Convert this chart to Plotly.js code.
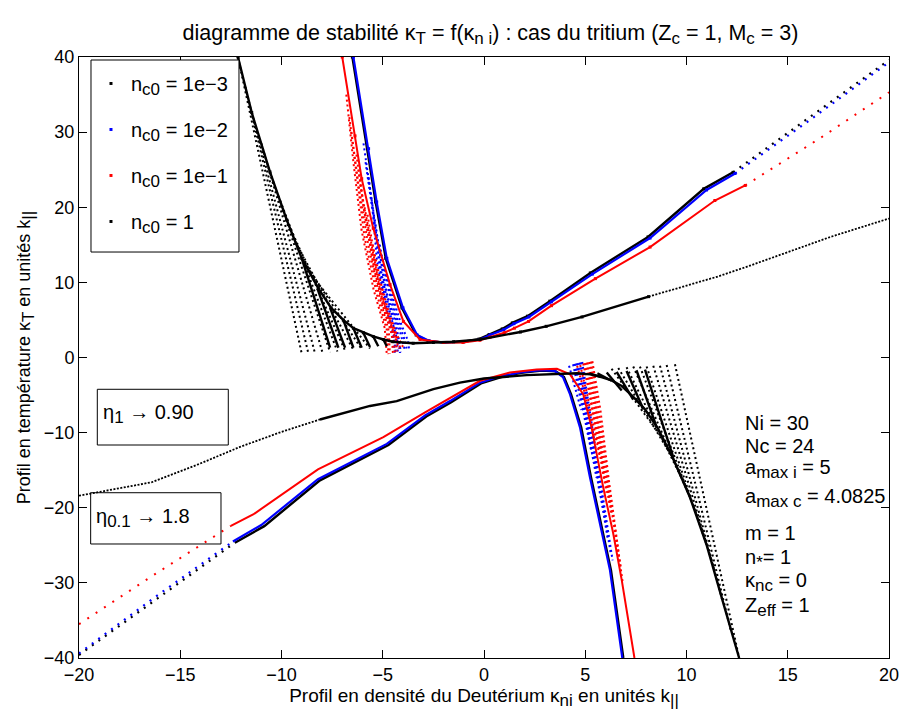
<!DOCTYPE html>
<html><head><meta charset="utf-8">
<script src="https://cdn.plot.ly/plotly-3.0.1.min.js"></script>
<style>html,body{margin:0;padding:0;background:#fff}#plot{width:904px;height:715px}</style>
</head><body><div id="plot"></div>
<script>
// ---------- DATA ----------
// n_c0 = 1e-3 (black, mostly hidden under 1e-2)
const e3UpX = [-6.5,-5.75,-5.35,-4.85,-4.05,-3.35,-2.75,-2.0,-1.0,-0.25,0.25,0.9,1.4,2.15,3.25,5.25,8.1,10.85,12.3];
const e3UpY = [40,27.8,20.7,13.2,6.6,3.0,2.2,2.0,2.1,2.45,3.05,3.8,4.6,5.5,7.5,11.25,16.05,22.45,24.65];
const e3UpDotX = [12.3,16.2,20.0];
const e3UpDotY = [24.65,32.2,39.6];
const e3LoX = [-12.3,-10.85,-8.1,-5.55,-4.72,-2.85,-1.62,-0.15,0.85,1.83,2.85,3.55,3.95,4.3,4.8,5.28,5.78,6.27,6.88];
const e3LoY = [-24.65,-22.45,-16.35,-12.75,-11.65,-7.85,-5.95,-3.45,-2.6,-2.05,-1.75,-1.85,-2.6,-4.9,-9.3,-15.9,-22.1,-28.3,-40];
const e3LoDotX = [-20.0,-16.2,-12.3];
const e3LoDotY = [-39.6,-32.2,-24.65];

// n_c0 = 1e-2 (blue)
const b2UpX = [-6.45,-5.7,-5.3,-4.8,-4.0,-3.3,-2.7,-2.0,-1.0,-0.2,0.3,0.98,1.48,2.22,3.33,5.35,8.2,10.99,12.4];
const b2UpY = [40,27.8,20.7,13.2,6.6,3.0,2.2,2.0,2.1,2.4,3.0,3.7,4.5,5.4,7.4,11.1,15.9,22.3,24.5];
const b2UpDotX = [12.4,16.29,20.0];
const b2UpDotY = [24.5,32.0,39.3];
const b2LoX = [-12.4,-11.0,-8.2,-5.63,-4.8,-2.91,-1.68,-0.2,0.8,1.78,2.8,3.5,3.9,4.25,4.74,5.23,5.73,6.22,6.83];
const b2LoY = [-24.5,-22.3,-16.2,-12.6,-11.5,-7.7,-5.8,-3.35,-2.5,-2.0,-1.7,-1.8,-2.6,-4.9,-9.3,-15.9,-22.1,-28.3,-40];
const b2LoDotX = [-20.0,-16.3,-12.4];
const b2LoDotY = [-39.4,-32.0,-24.5];
// blue dotted strands beside the steep branches
const b2StrUpX = [[-5.95,-5.5,-5.3,-4.85,-4.5,-4.4],[-5.85,-5.45,-5.15,-4.75,-4.45,-4.35],[-5.7,-5.35,-5.05,-4.6,-4.3,-4.25],[-5.55,-5.2,-4.9,-4.5,-4.2,-4.15],[-5.45,-5.1,-4.8,-4.35,-4.1],[-5.15,-4.8,-4.45,-4.1,-3.9],[-5.0,-4.65,-4.3,-3.95,-3.8],[-4.8,-4.45,-4.1,-3.75,-3.7]];
const b2StrUpY = [[28.5,20,13.2,6.6,3.0,0.4],[26,18.5,12,6,2.8,0.45],[24,17,11,5.5,2.5,0.5],[21,15,9.5,5,2.3,0.6],[19,13,8.5,4.5,0.7],[15,10,6,3,0.9],[13,8.8,5.3,2.6,1.0],[11,7.5,4.5,2.2,1.1]];
const b2StrLoX = [[4.85,5.15,5.55,5.95,6.35],[4.78,5.08,5.48,5.88,6.25],[4.7,5.0,5.4,5.8,6.1],[4.62,4.92,5.3,5.68,5.95],[4.55,4.85,5.2,5.55],[4.48,4.78,5.1,5.42],[4.4,4.7,5.0,5.3],[4.2,4.5,4.8]];
const b2StrLoY = [[-0.6,-6,-13,-20,-27],[-0.65,-5.8,-12.5,-19.5,-26],[-0.7,-5.5,-12,-19,-24],[-0.75,-5.2,-11.2,-17.5,-21],[-0.8,-5,-10.5,-16],[-0.85,-4.8,-9.5,-14],[-0.9,-4.5,-8.5,-12.5],[-1.1,-4,-7]];

// n_c0 = 1e-1 (red)
const r1UpX = [-7.0,-6.37,-6.04,-5.47,-4.64,-3.98,-3.16,-2.0,-1.04,-0.2,0.3,1.0,1.5,2.2,3.33,5.5,8.2,11.4,12.9];
const r1UpY = [40,29.5,23.8,17.2,9.7,4.8,2.4,2.0,2.0,2.3,2.7,3.3,3.9,4.8,6.9,10.5,14.7,20.9,22.9];
const r1UpDotX = [12.9,16.6,20.0];
const r1UpDotY = [22.9,29.2,35.3];
const r1LoX = [-12.5,-11.4,-8.2,-5.63,-4.97,-2.91,-1.84,-0.2,1.28,2.6,3.6,4.25,4.9,5.31,5.89,6.38,6.8,7.43];
const r1LoY = [-22.4,-20.9,-14.9,-11.5,-10.6,-7.3,-5.6,-3.1,-2.0,-1.6,-1.5,-2.25,-4.9,-9.3,-17.3,-23.4,-29.6,-40];
const r1LoDotX = [-20.0,-16.4,-12.5];
const r1LoDotY = [-35.5,-29.1,-22.4];
const r1StrUpX = [[-6.8,-6.45,-6.05,-5.45,-4.9,-4.8],[-6.65,-6.3,-5.9,-5.3,-4.8,-4.72],[-6.55,-6.2,-5.75,-5.2,-4.7,-4.65],[-6.3,-5.95,-5.5,-5.0,-4.55,-4.5],[-6.2,-5.85,-5.4,-4.9,-4.45,-4.4],[-6.1,-5.7,-5.25,-4.75,-4.35,-4.3],[-5.9,-5.5,-5.1,-4.6,-4.2],[-5.75,-5.35,-4.9,-4.45,-4.1],[-5.5,-5.1,-4.7,-4.3,-4.0]];
const r1StrUpY = [[35,26,17,9,3.9,0.4],[32,24.5,16,8.5,3.7,0.45],[30,23,15.5,8.5,3.5,0.5],[27,20,13,7,3,0.6],[25,18.5,11.5,6,2.8,0.7],[23,16.5,10.5,5.5,2.5,0.8],[20,14,8.5,4.5,1.2],[19,12.5,7,3.5,1.0],[15,10,6,3,1.4]];
const r1StrLoX = [[5.35,5.75,6.15,6.6,6.85],[5.28,5.65,6.05,6.5,6.75],[5.2,5.55,5.95,6.4,6.6],[5.12,5.48,5.88,6.3],[5.05,5.4,5.8,6.2],[4.98,5.32,5.7,6.05],[4.9,5.25,5.6,5.95],[4.75,5.1,5.4,5.7],[4.6,4.95,5.25,5.5]];
const r1StrLoY = [[-0.5,-7,-16,-24.8,-30],[-0.55,-6.8,-15,-23.5,-28],[-0.6,-6.5,-14.5,-22,-26],[-0.65,-6.2,-13.8,-21],[-0.7,-6,-13,-19.5],[-0.75,-5.8,-12,-18],[-0.8,-5.5,-11,-16.5],[-1.0,-5,-9,-13],[-1.1,-4.5,-8,-11]];

// n_c0 = 1 (black)
const k0UpX = [-12.15,-11.47,-10.57,-9.74,-9.0,-8.18,-7.55,-6.95,-6.45,-5.96,-5.47,-4.97,-4.5,-3.5,-2.5,-1.5,-0.2,1.8,3.07,4.84,8.13];
const k0UpY = [40,32.6,24.7,18.3,13.2,9.2,6.6,5.0,3.9,3.3,2.8,2.4,2.1,1.9,2.0,2.1,2.4,3.4,4.15,5.4,8.1];
const k0UpDotX = [8.13,10.0,11.57,13.0,15.0,17.13,20.0];
const k0UpDotY = [8.1,9.6,10.8,12.1,14.0,16.07,18.5];
const k0LoX = [-8.1,-5.63,-4.31,-2.5,-1.19,0.0,2.1,3.6,4.6,5.24,5.8,6.3,6.8,7.36,7.95,8.6,9.35,10.17,11.0,11.85,12.6];
const k0LoY = [-8.25,-6.45,-5.8,-4.2,-3.35,-2.8,-2.35,-2.2,-2.1,-2.25,-2.6,-3.05,-3.8,-5.2,-6.9,-9.5,-13.5,-18.6,-25,-33,-40];
const k0LoDotX = [-20.0,-16.4,-14.0,-12.05,-10.0,-8.1];
const k0LoDotY = [-18.4,-16.6,-14.1,-11.9,-9.9,-8.25];
const k0FanUpX0 = [-12.15,-11.78,-11.47,-11.0,-10.57,-10.15,-9.74,-9.33,-9.0,-8.59];
const k0FanUpY0 = [40,36,32.6,28.5,24.7,21.5,18.3,15.5,13.2,11.2];
const k0FanUpX1 = [-9.0,-8.67,-8.35,-7.97,-7.6,-7.24,-6.86,-6.45,-6.04,-5.63];
const k0FanUpY1 = [0.5,0.5,0.6,0.6,0.7,0.8,0.9,1.0,1.1,1.2];
const k0TeethUpX0 = [-9.0,-8.23,-7.6,-6.95,-6.45,-5.96,-5.47,-4.97];
const k0TeethUpY0 = [13.2,9.2,6.6,5.0,3.9,3.3,2.8,2.4];
const k0TeethUpX1 = [-7.6,-7.19,-6.86,-6.45,-6.04,-5.63,-5.22,-4.8];
const k0TeethUpY1 = [1.3,1.3,1.3,1.3,1.3,1.4,1.5,1.5];
const k0FanLoX0 = [9.43,9.02,8.69,8.36,8.03,7.7,7.37,7.04,6.63,6.3];
const k0FanLoY0 = [-0.9,-1.0,-1.1,-1.1,-1.2,-1.2,-1.2,-1.3,-1.4,-1.5];
const k0FanLoX1 = [12.6,12.2,11.8,11.4,11.0,10.6,10.17,9.75,9.35,8.95];
const k0FanLoY1 = [-40,-36.5,-32.6,-28.5,-25,-21.6,-18.6,-16,-13.5,-11.3];
const k0TeethLoX0 = [5.2,5.6,6.06,6.55,7.04,7.53,7.95];
const k0TeethLoY0 = [-2.1,-2.1,-2.0,-1.9,-1.8,-1.7,-1.6];
const k0TeethLoX1 = [5.8,6.3,6.8,7.37,7.87,8.53,9.35];
const k0TeethLoY1 = [-2.6,-3.1,-4.4,-5.6,-6.9,-9.3,-13.3];

// texts
const SUB = t => '<sub><span style="font-size:17px">'+t+'</span></sub>';
const seriesNames = ['n'+SUB('c0')+' = 1e\u22123','n'+SUB('c0')+' = 1e\u22122','n'+SUB('c0')+' = 1e\u22121','n'+SUB('c0')+' = 1'];
const xTicks = [-20,-15,-10,-5,0,5,10,15,20];
const yTicks = [-40,-30,-20,-10,0,10,20,30,40];
const paramLines = ['Ni = 30','Nc = 24','a'+SUB('max i')+' = 5','a'+SUB('max c')+' = 4.0825','m = 1','n'+SUB('*')+'= 1','\u03ba'+SUB('nc')+' = 0','Z'+SUB('eff')+' = 1'];
const paramY = [0.3918,0.3527,0.3145,0.267,0.208,0.1647,0.1265,0.0849];

// ---------- BUILD ----------
const FONT = 'Liberation Sans, Arial, Helvetica, sans-serif';
function segs(x0,y0,x1,y1){const X=[],Y=[];for(let i=0;i<x0.length;i++){X.push(x0[i],x1[i],null);Y.push(y0[i],y1[i],null);}return {X,Y};}
function multi(xs,ys){const X=[],Y=[];for(let i=0;i<xs.length;i++){X.push(...xs[i],null);Y.push(...ys[i],null);}return {X,Y};}
function ln(x,y,color,width,dash,g){return {x:x,y:y,type:'scatter',mode:'lines',line:{color:color,width:width,dash:dash||'solid'},legendgroup:g,showlegend:false,hoverinfo:'skip'};}
function lg(x,y,color,name,g){return {x:x,y:y,type:'scatter',mode:'markers',marker:{color:color,size:3,symbol:'square'},name:name,legendgroup:g,showlegend:true,hoverinfo:'skip'};}
const FD = '2px,3px';
const traces = [];
let s;
// 1e-3
traces.push(lg(e3UpX,e3UpY,'#000',seriesNames[0],'a'));
traces.push(ln(e3UpX,e3UpY,'#000',2.4,'solid','a'));
traces.push(ln(e3LoX,e3LoY,'#000',2.4,'solid','a'));
traces.push(ln(e3UpDotX,e3UpDotY,'#000',2.2,'2px,6px','a'));
traces.push(ln(e3LoDotX,e3LoDotY,'#000',2.2,'2px,6px','a'));
// 1e-2
traces.push(lg(b2UpX,b2UpY,'#0000ff',seriesNames[1],'b'));
s=multi(b2StrUpX,b2StrUpY); traces.push(ln(s.X,s.Y,'#0000ff',2,FD,'b'));
s=multi(b2StrLoX,b2StrLoY); traces.push(ln(s.X,s.Y,'#0000ff',2,FD,'b'));
traces.push(ln(b2UpX,b2UpY,'#0000ff',2.2,'solid','b'));
traces.push(ln(b2LoX,b2LoY,'#0000ff',2.2,'solid','b'));
traces.push(ln(b2UpDotX,b2UpDotY,'#0000ff',2.2,'2px,6px','b'));
traces.push(ln(b2LoDotX,b2LoDotY,'#0000ff',2.2,'2px,6px','b'));
// 1e-1
traces.push(lg(r1UpX,r1UpY,'#ff0000',seriesNames[2],'c'));
s=multi(r1StrUpX,r1StrUpY); traces.push(ln(s.X,s.Y,'#ff0000',2,FD,'c'));
s=multi(r1StrLoX,r1StrLoY); traces.push(ln(s.X,s.Y,'#ff0000',2,FD,'c'));
traces.push(ln(r1UpX,r1UpY,'#ff0000',2,'solid','c'));
traces.push(ln(r1LoX,r1LoY,'#ff0000',2,'solid','c'));
traces.push(ln(r1UpDotX,r1UpDotY,'#ff0000',2,'2px,8px','c'));
traces.push(ln(r1LoDotX,r1LoDotY,'#ff0000',2,'2px,8px','c'));
// 1
traces.push(lg(k0UpX,k0UpY,'#000',seriesNames[3],'d'));
s=segs(k0FanUpX0,k0FanUpY0,k0FanUpX1,k0FanUpY1); traces.push(ln(s.X,s.Y,'#000',2,FD,'d'));
s=segs(k0FanLoX0,k0FanLoY0,k0FanLoX1,k0FanLoY1); traces.push(ln(s.X,s.Y,'#000',2,FD,'d'));
s=segs(k0TeethUpX0,k0TeethUpY0,k0TeethUpX1,k0TeethUpY1); traces.push(ln(s.X,s.Y,'#000',2.4,'solid','d'));
s=segs(k0TeethLoX0,k0TeethLoY0,k0TeethLoX1,k0TeethLoY1); traces.push(ln(s.X,s.Y,'#000',2.4,'solid','d'));
traces.push(ln(k0UpX,k0UpY,'#000',2.4,'solid','d'));
traces.push(ln(k0LoX,k0LoY,'#000',2.4,'solid','d'));
traces.push(ln(k0UpDotX,k0UpDotY,'#000',1.8,'2px,1.5px','d'));
traces.push(ln(k0LoDotX,k0LoDotY,'#000',1.8,'2px,1.5px','d'));

const TF = {family:FONT,size:20,color:'#000'};
const annotations = paramLines.map((t,i)=>({text:t,xref:'paper',yref:'paper',x:0.8198,y:paramY[i],xanchor:'left',yanchor:'middle',showarrow:false,font:TF}));
annotations.push({text:'\u03b7'+SUB('1')+' \u2192 0.90',xref:'paper',yref:'paper',x:0.027,y:0.406,xanchor:'left',yanchor:'middle',showarrow:false,font:TF});
annotations.push({text:'\u03b7'+SUB('0.1')+' \u2192 1.8',xref:'paper',yref:'paper',x:0.019,y:0.233,xanchor:'left',yanchor:'middle',showarrow:false,font:TF});
const shapes = [
 {type:'rect',xref:'paper',yref:'paper',x0:0.0148,x1:0.1975,y0:0.6755,y1:0.995,line:{color:'#000',width:1},fillcolor:'#fff',layer:'above'},
 {type:'rect',xref:'paper',yref:'paper',x0:0.0226,x1:0.1843,y0:0.3544,y1:0.4471,line:{color:'#000',width:1},fillcolor:'rgba(0,0,0,0)',layer:'above'},
 {type:'rect',xref:'paper',yref:'paper',x0:0.0144,x1:0.1753,y0:0.1897,y1:0.275,line:{color:'#000',width:1},fillcolor:'rgba(0,0,0,0)',layer:'above'}
];

const axisCommon = {showline:true,linecolor:'#000',linewidth:1,mirror:'ticks',ticks:'inside',ticklen:8,tickwidth:1,tickcolor:'#000',showgrid:false,zeroline:false,tickfont:{family:FONT,size:18,color:'#000'}};
const layout = {
 width:904,height:715,paper_bgcolor:'#fff',plot_bgcolor:'#fff',
 margin:{l:79,r:15,t:57,b:57},
 font:{family:FONT,color:'#000'},
 title:{text:'diagramme de stabilit\u00e9 \u03ba'+SUB('T')+' = f(\u03ba'+SUB('n i')+') : cas du tritium (Z'+SUB('c')+' = 1, M'+SUB('c')+' = 3)',font:{family:FONT,size:21.5,color:'#000'},x:0.508,xref:'paper',xanchor:'center',y:0.955,yref:'container',yanchor:'middle'},
 xaxis:Object.assign({},axisCommon,{range:[-20,20],tickvals:xTicks,ticktext:xTicks.map(v=>v<0?'\u2212'+(-v):String(v)),title:{text:'Profil en densit\u00e9 du Deut\u00e9rium \u03ba'+SUB('ni')+' en unit\u00e9s k'+SUB('||'),font:{family:FONT,size:19,color:'#000'},standoff:2}}),
 yaxis:Object.assign({},axisCommon,{range:[-40,40],tickvals:yTicks,ticktext:yTicks.map(v=>v<0?'\u2212'+(-v):String(v)),title:{text:'Profil en temp\u00e9rature \u03ba'+SUB('T')+' en unit\u00e9s k'+SUB('||'),font:{family:FONT,size:18,color:'#000'},standoff:8}}),
 showlegend:true,
 legend:{x:0.0148,y:0.9884,xanchor:'left',yanchor:'top',bgcolor:'rgba(0,0,0,0)',borderwidth:0,font:{family:FONT,size:20,color:'#000'},traceorder:'grouped',tracegroupgap:17,itemsizing:'trace'},
 annotations:annotations,shapes:shapes
};
Plotly.newPlot('plot',traces,layout,{displayModeBar:false,staticPlot:true});
</script></body></html>
